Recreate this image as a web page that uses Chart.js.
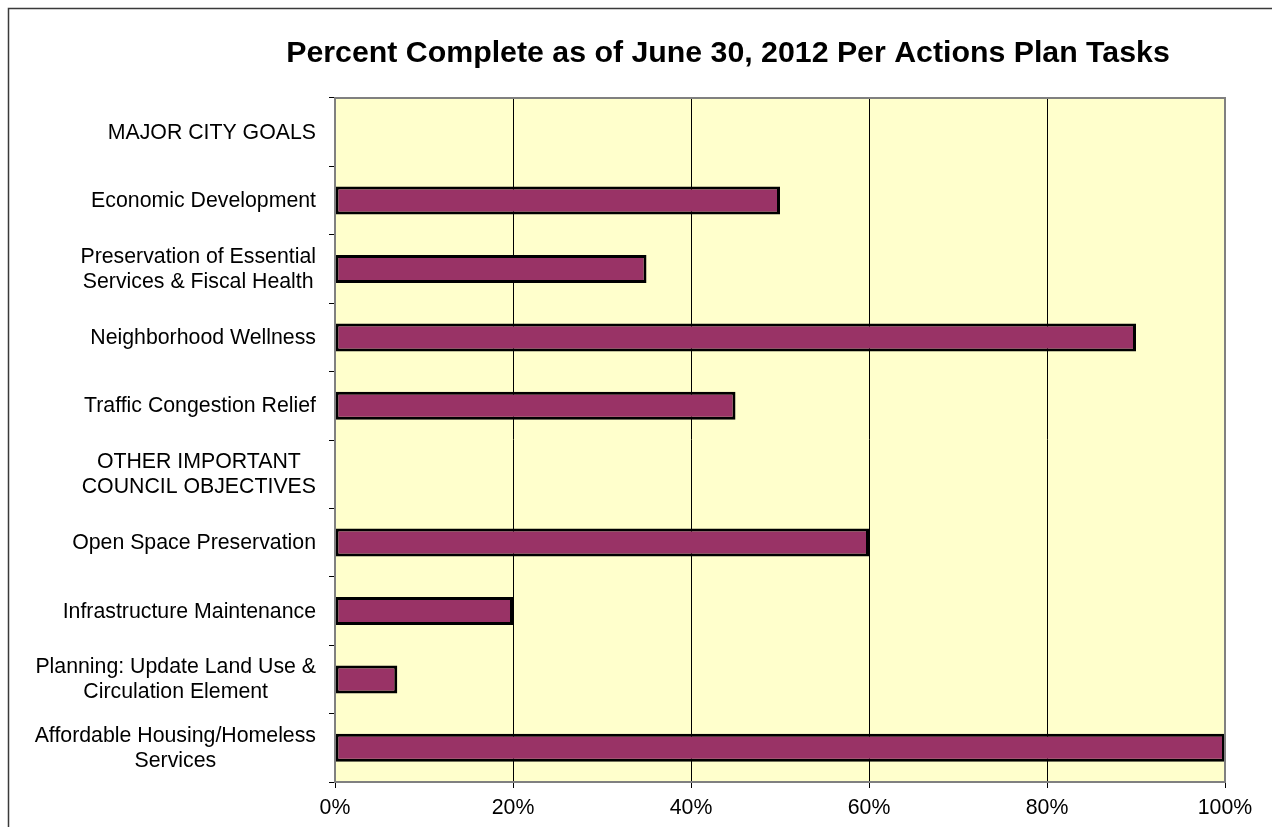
<!DOCTYPE html>
<html lang="en">
<head>
    <meta charset="UTF-8">
    <title>Percent Complete</title>
    <script src="https://cdn.jsdelivr.net/npm/chart.js"></script>
    <style>
        body { margin: 0; background: #fff; }
        canvas { display: block; }
    </style>
</head>
<body>
    <canvas id="myChart" width="1272" height="827"></canvas>
</body>
</html>
<script>
    // categorias (cada linha do rótulo é um item)
    const categorias = [
        ['MAJOR CITY GOALS'],
        ['Economic Development'],
        ['Preservation of Essential', 'Services & Fiscal Health'],
        ['Neighborhood Wellness'],
        ['Traffic Congestion Relief'],
        ['OTHER IMPORTANT', 'COUNCIL OBJECTIVES'],
        ['Open Space Preservation'],
        ['Infrastructure Maintenance'],
        ['Planning: Update Land Use &', 'Circulation Element'],
        ['Affordable Housing/Homeless', 'Services']
    ];

    // percentual concluído (null = linha de cabeçalho)
    const percentuais = [null, 50, 35, 90, 45, null, 60, 20, 7, 100];

    // marcas do eixo x
    const marcasX = [0, 20, 40, 60, 80, 100];

    const titulo = 'Percent Complete as of June 30, 2012 Per Actions Plan Tasks';
    const fonte = '"Liberation Sans", Arial, sans-serif';

    // fundo, moldura, título e rótulos centralizados do eixo y
    const desenhoExtra = {
        id: 'desenhoExtra',
        beforeDraw(chart) {
            const ctx = chart.ctx;
            const a = chart.chartArea;
            ctx.save();
            ctx.fillStyle = '#ffffff';
            ctx.fillRect(0, 0, chart.width, chart.height);

            ctx.strokeStyle = '#3a3a3a';
            ctx.lineWidth = 1.5;
            ctx.beginPath();
            ctx.moveTo(8.5, chart.height);
            ctx.lineTo(8.5, 8.5);
            ctx.lineTo(chart.width, 8.5);
            ctx.stroke();

            ctx.fillStyle = '#ffffcc';
            ctx.fillRect(a.left, a.top, a.right - a.left, a.bottom - a.top);
            ctx.restore();
        },
        afterDraw(chart) {
            const ctx = chart.ctx;
            const a = chart.chartArea;
            const y = chart.scales.y;
            ctx.save();

            ctx.strokeStyle = '#808080';
            ctx.lineWidth = 2;
            ctx.strokeRect(a.left, a.top, a.right - a.left, a.bottom - a.top);

            ctx.fillStyle = '#000';
            ctx.font = 'bold 30.3px ' + fonte;
            ctx.textAlign = 'center';
            ctx.textBaseline = 'alphabetic';
            ctx.fillText(titulo, 728, 62);

            ctx.font = '21.3px ' + fonte;
            for (let i = 0; i < categorias.length; i++) {
                const linhas = categorias[i];
                let larg = 0;
                linhas.forEach(l => { larg = Math.max(larg, ctx.measureText(l).width); });
                const cx = 316 - larg / 2;
                const cy = y.getPixelForValue(i);
                linhas.forEach((l, j) => {
                    ctx.fillText(l, cx, cy + (j - (linhas.length - 1) / 2) * 25 + 6.5);
                });
            }
            ctx.restore();
        }
    };

    const dados = {
        labels: categorias,
        datasets: [{
            data: percentuais,
            backgroundColor: '#993366',
            borderColor: '#000000',
            borderWidth: 3,
            borderSkipped: false,
            barPercentage: 0.41,
            categoryPercentage: 1
        }]
    };

    const opcoes = {
        indexAxis: 'y',
        responsive: false,
        animation: false,
        layout: { padding: { top: 98, right: 47, left: 0, bottom: 0 } },
        plugins: {
            legend: { display: false },
            tooltip: { enabled: false },
            title: { display: false }
        },
        scales: {
            x: {
                min: 0,
                max: 100,
                afterBuildTicks(scale) {
                    scale.ticks = marcasX.map(v => ({ value: v }));
                },
                afterFit(scale) { scale.height = 45; },
                ticks: {
                    color: '#000',
                    font: { family: fonte, size: 21.3 },
                    padding: 7,
                    callback: v => v + '%'
                },
                grid: {
                    color: c => (c.tick && (c.tick.value === 0 || c.tick.value === 100)) ? 'rgba(0,0,0,0)' : '#000',
                    tickColor: '#000',
                    tickLength: 6,
                    lineWidth: 1
                },
                border: { color: '#808080', width: 2 }
            },
            y: {
                afterFit(scale) { scale.width = 335; },
                ticks: {
                    color: 'rgba(0,0,0,0)',
                    font: { family: fonte, size: 21 }
                },
                grid: {
                    offset: true,
                    drawOnChartArea: false,
                    tickColor: '#000',
                    tickLength: 6
                },
                border: { color: '#808080', width: 2 }
            }
        }
    };

    const myChart = new Chart(document.getElementById('myChart'), {
        type: 'bar',
        data: dados,
        options: opcoes,
        plugins: [desenhoExtra]
    });
</script>
